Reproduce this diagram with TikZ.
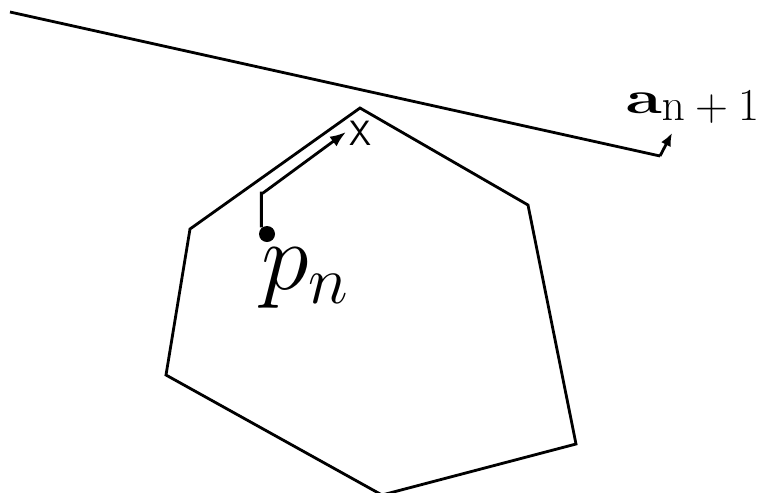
\RequirePackage{fix-cm}
\documentclass[tikz,border=0pt]{standalone}
\usetikzlibrary{arrows.meta}
\begin{document}
\begin{tikzpicture}[line width=1.6pt, line join=miter]
			\useasboundingbox (0,0) rectangle (15.16,-9.84);
			\clip (0,0) rectangle (15.16,-9.84);

			% Define polygon corners with their coordinates
			\coordinate (T) at (7.2, -2.16);
			\coordinate (RT) at (10.56, -4.1);
			\coordinate (RB) at (11.52, -8.88);
			\coordinate (B) at (7.64, -9.9);
			\coordinate (LB) at (3.32, -7.5);
			\coordinate (LT) at (3.8, -4.58);

			% Supporting line and its normal
			\coordinate (L0) at (0.2, -0.24);
			\coordinate (L1) at (13.2, -3.12);
			\coordinate (N) at (13.44, -2.66);
			\node[anchor=base west, inner sep=0pt] (a) at (12.48, -2.26) {\fontsize{26}{30}\selectfont $\scalebox{1.45}[1]{$\mathbf{a}$}\raisebox{-0.14cm}{$\mathrm{n+1}$}$};

			% Point and direction
			\node[circle, fill=black, inner sep=0pt, minimum size=0.32cm] (p) at (5.34, -4.68) {};
			\coordinate (C) at (5.26, -3.86);
			\coordinate (X) at (6.92, -2.64);
			\node[inner sep=0pt] (x) at (7.2, -2.66) {\fontsize{20}{24}\selectfont\sffamily X};
			\node[anchor=base west, inner sep=0pt] (pn) at (5.2, -5.78) {\fontsize{55}{60}\selectfont $p_n$};

			% Draw edges
			\draw (T) -- (RT) -- (RB) -- (B) -- (LB) -- (LT) -- cycle;
			\draw (L0) -- (L1);
			\draw[-{Latex[length=0.26cm, width=0.22cm]}] (L1) -- (N);
			\draw[-{Latex[length=0.32cm, width=0.24cm]}] (p.north west) ++(0.02,0) |- (C) -- (X);

		\end{tikzpicture}
\end{document}
